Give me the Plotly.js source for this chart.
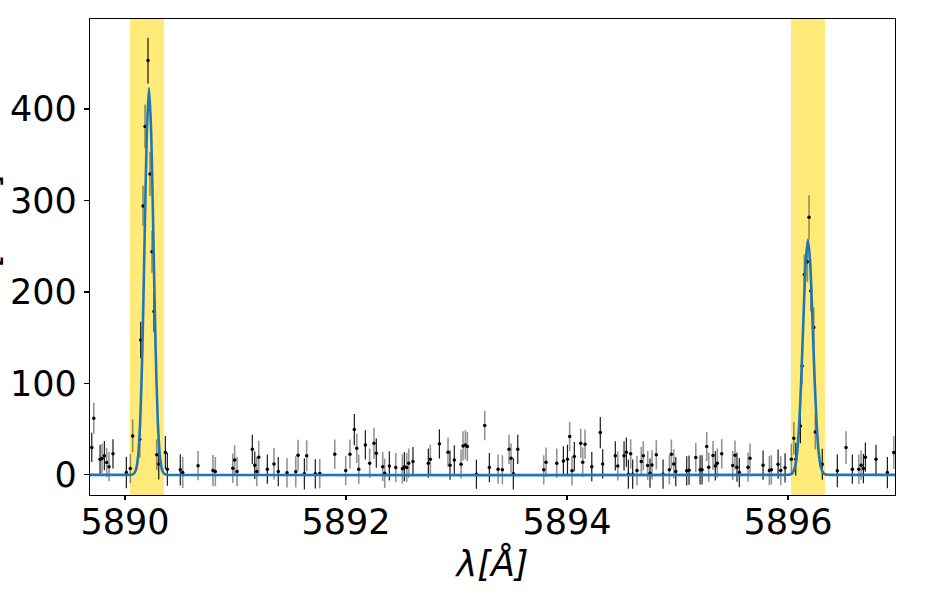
<!DOCTYPE html>
<html>
<head>
<meta charset="utf-8">
<script src="https://cdn.plot.ly/plotly-3.0.1.min.js"></script>
<style>html,body{margin:0;padding:0;background:#fff;overflow:hidden;}#chart{width:927px;height:594px;}</style>
</head>
<body>
<div id="chart"></div>
<script>
// Data points with dark error bars
const xA = [5889.699,5889.774,5889.813,5889.891,5890.012,5890.142,5890.208,5890.262,5890.305,5890.365,5890.383,5890.500,
  5891.152,5891.174,5891.288,5891.387,5891.623,5891.722,5892.075,5892.175,5892.274,5892.392,5892.528,5892.606,5892.745,
  5892.845,5892.941,5892.980,5893.180,5893.297,5893.514,5893.554,5893.967,5894.004,5894.066,5894.224,5894.301,5894.323,
  5894.437,5894.516,5894.537,5894.555,5894.594,5894.751,5894.869,5894.984,5895.083,5895.104,5895.204,5895.222,5895.342,
  5895.538,5895.559,5895.774,5895.910,5895.973,5896.070,5896.112,5896.310,5896.446,5896.582,5896.682,5896.700,5896.796,5896.899];
const yA = [30,17,21,23,2.5,147.5,453,178.5,12,24.4,6.2,5.5,
  28,10.6,6.2,3.6,1.1,1.1,49.5,32.8,23.7,9.8,9,14.6,12.8,
  33.9,10.6,16.4,0.7,8,1.1,28,15.3,17,20,9,46.2,12,
  20.8,20.8,24.8,0.7,0.7,1.8,0.7,3.6,4.4,5.1,5.5,5.5,9.8,
  8.4,2.5,10.6,11.7,7.7,17,53.5,11.7,4.4,6.2,6.9,19.3,17,2.5];
const eA = [16,16,16,16,17,20,25,22,17,18,18,17,
  16,15,16,16,17,16,17,16,16,16,16,16,16,
  16,16,16,16,16,17,16,16,16,16,16,17,16,
  16,16,16,16,16,16,16,16,16,16,16,16,16,
  16,16,16,16,16,18,19,17,18,16,16,16,16,17];

// Data points with grey error bars
const xB = [5889.717,5889.792,5889.834,5889.855,5890.048,5890.069,5890.133,5890.163,5890.181,5890.226,5890.244,5890.287,
  5890.522,5890.661,5890.796,5890.817,5890.975,5890.992,5891.014,5891.192,5891.210,5891.348,5891.466,5891.545,5891.566,
  5891.644,5891.762,5891.898,5891.997,5892.036,5892.097,5892.115,5892.214,5892.253,5892.332,5892.350,5892.450,5892.510,
  5892.549,5892.567,5892.763,5892.923,5893.041,5893.059,5893.080,5893.098,5893.255,5893.376,5893.415,5893.475,5893.493,
  5893.789,5893.810,5893.907,5894.024,5894.045,5894.124,5894.142,5894.163,5894.459,5894.576,5894.633,5894.672,5894.690,
  5894.730,5894.769,5894.808,5894.926,5894.944,5894.966,5895.165,5895.264,5895.282,5895.321,5895.360,5895.400,5895.499,
  5895.520,5895.638,5895.656,5895.831,5895.849,5895.934,5896.030,5896.052,5896.127,5896.148,5896.175,5896.190,5896.206,
  5896.233,5896.247,5896.525,5896.640,5896.661,5896.957];
const yB = [62,18,13.5,9,7,42.6,39,294,381,329,244,22,
  2.5,10,4.7,3.6,7.3,16.4,3.6,3.6,19.3,12,2.2,3.3,21.5,
  20.8,1.4,22.6,4.7,22.6,29,6.2,12.8,34.6,9,1.8,8,6.6,
  8,12.8,17,24.8,11.7,31.7,32.8,31,53.9,6.2,5.5,28,18.2,
  5.5,13.9,12.8,41.9,4.4,34.6,13.9,33.5,9.8,23,4.7,14.6,20.8,
  10.2,10.9,21.9,5.5,22.6,12,18.9,31,8.4,21.1,12.8,23,10.2,
  21.5,8.4,18.2,4.7,5.5,4.7,17,40,119,219,233,281.6,201,
  161,47,29.8,6.2,10.6,24.4];
const eB = [17,16,16,16,16,18,20,22,24,24,23,17,
  17,16,17,16,16,16,16,16,18,17,16,17,17,
  17,16,16,16,16,16,16,16,17,16,16,16,16,
  16,16,16,16,16,16,16,16,16,16,16,16,16,
  16,16,16,16,16,16,16,16,16,16,16,16,16,
  16,16,16,16,16,16,16,16,16,16,16,16,16,
  16,16,16,16,16,16,17,18,20,22,22,24,22,
  22,19,18,16,16,18];

// Fitted model curve
const fitX = [5889.683,5890.040,5890.057,5890.077,5890.097,5890.117,5890.137,5890.157,5890.177,5890.197,5890.217,
  5890.237,5890.257,5890.277,5890.297,5890.317,5890.337,5890.357,5890.377,5890.394,
  5895.980,5896.000,5896.020,5896.040,5896.060,5896.080,5896.100,5896.120,5896.140,5896.160,5896.180,
  5896.200,5896.220,5896.240,5896.260,5896.280,5896.300,5896.320,5896.340,5896.360,5896.380,5896.968];
const fitY = [0,0,0.1,0.9,4.7,18.6,57,137,257,373,423,
  373,257,137,57,18.6,4.7,0.9,0.1,0,
  0,0.09,0.45,2.0,7.3,21.7,53,106,173,233,257,
  233,173,106,53,21.7,7.3,2.0,0.45,0.09,0,0];

// Highlighted line windows
const bandStart = [5890.045, 5896.027];
const bandEnd = [5890.353, 5896.335];

const xTicks = [5890, 5892, 5894, 5896];
const yTicks = [0, 100, 200, 300, 400];
const yTitle = "Flux [a.u.]";

const font = "DejaVu Sans, sans-serif";

const shapes = bandStart.map((s, i) => ({
  type: "rect", xref: "x", yref: "paper", x0: s, x1: bandEnd[i], y0: 0, y1: 1,
  fillcolor: "rgba(255,215,0,0.52)", line: {width: 0}, layer: "below"
}));

const traces = [
  {x: xB, y: yB, type: "scatter", mode: "markers",
   marker: {color: "black", size: 3.5},
   error_y: {type: "data", array: eB, visible: true, color: "rgba(60,60,60,0.55)", thickness: 1.6, width: 0},
   hoverinfo: "skip"},
  {x: xA, y: yA, type: "scatter", mode: "markers",
   marker: {color: "black", size: 3.5},
   error_y: {type: "data", array: eA, visible: true, color: "rgba(0,0,0,0.9)", thickness: 1.2, width: 0},
   hoverinfo: "skip"},
  {x: fitX, y: fitY, type: "scatter", mode: "lines", line: {color: "#1f77b4", width: 2.6, shape: "spline", smoothing: 0.6},
   hoverinfo: "skip"}
];

const layout = {
  width: 927, height: 594,
  margin: {l: 90, r: 32, t: 19, b: 99},
  paper_bgcolor: "white", plot_bgcolor: "white",
  showlegend: false,
  font: {family: font, color: "black", size: 35},
  shapes: shapes,
  annotations: [{
    text: yTitle, textangle: -90, xref: "paper", yref: "paper",
    x: -0.1019, y: 0.488, xanchor: "right", yanchor: "middle", showarrow: false,
    font: {family: font, size: 35, color: "black"}
  }],
  xaxis: {
    range: [5889.683, 5896.968],
    tickvals: xTicks, ticktext: xTicks.map(String),
    ticks: "outside", ticklen: 4, tickwidth: 1.2, tickcolor: "black",
    ticklabelstandoff: -8,
    showgrid: false, zeroline: false,
    showline: true, linecolor: "black", linewidth: 1.3, mirror: true,
    tickfont: {family: font, size: 35, color: "black"},
    title: {text: "<i>λ[Å]</i>", font: {family: font, size: 35, color: "black"}, standoff: 2}
  },
  yaxis: {
    range: [-22, 498.4],
    tickvals: yTicks, ticktext: yTicks.map(String),
    ticks: "outside", ticklen: 5, tickwidth: 1.2, tickcolor: "black",
    showgrid: false, zeroline: false,
    showline: true, linecolor: "black", linewidth: 1.3, mirror: true,
    tickfont: {family: font, size: 35, color: "black"}
  }
};

Plotly.newPlot("chart", traces, layout, {staticPlot: true, displayModeBar: false});
</script>
</body>
</html>
